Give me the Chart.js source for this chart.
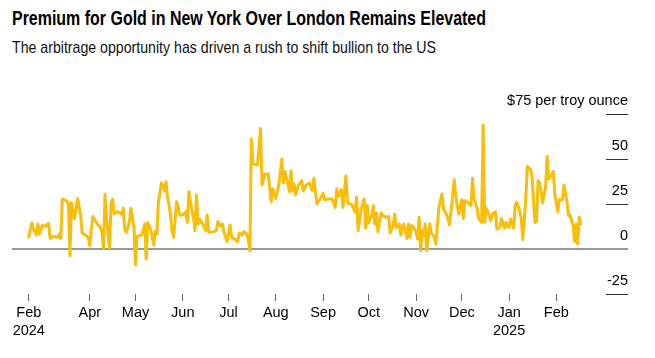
<!DOCTYPE html>
<html>
<head>
<meta charset="utf-8">
<script src="https://cdn.jsdelivr.net/npm/chart.js@4.4.1/dist/chart.umd.min.js"></script>
<style>
  html, body { margin: 0; padding: 0; background: #fff; }
  #wrap { position: relative; width: 655px; height: 358px; overflow: hidden; background: #fff; }
  .txt { position: absolute; left: 12px; white-space: nowrap; color: #000; display: inline-block; transform-origin: 0 50%; }
  #title { top: 8px; font: bold 20px/20px "Liberation Sans Narrow", "Liberation Sans", Arial, sans-serif; }
  #subtitle { top: 38.5px; font: 17px/17px "Liberation Sans Narrow", "Liberation Sans", Arial, sans-serif; color: #111; }
  canvas { position: absolute; left: 0; top: 0; }
</style>
</head>
<body>
<div id="wrap">
  <span id="title" class="txt">Premium for Gold in New York Over London Remains Elevated</span>
  <span id="subtitle" class="txt">The arbitrage opportunity has driven a rush to shift bullion to the US</span>
  <canvas id="c" width="655" height="358"></canvas>
</div>
<script>
// ---- Data ----
const dates = [
"2024-02-21","2024-02-23","2024-02-24","2024-02-26","2024-02-27","2024-02-28","2024-03-01","2024-03-03","2024-03-05","2024-03-06",
"2024-03-08","2024-03-11","2024-03-12","2024-03-13","2024-03-14","2024-03-16","2024-03-18","2024-03-19","2024-03-20","2024-03-22",
"2024-03-24","2024-03-26","2024-03-27","2024-03-29","2024-03-31","2024-04-01","2024-04-03","2024-04-05","2024-04-08","2024-04-09",
"2024-04-10","2024-04-11","2024-04-12","2024-04-14","2024-04-15","2024-04-16","2024-04-17","2024-04-19","2024-04-21","2024-04-22",
"2024-04-23","2024-04-24","2024-04-25","2024-04-27","2024-04-28","2024-04-30","2024-05-01","2024-05-02","2024-05-05","2024-05-06",
"2024-05-07","2024-05-08","2024-05-09","2024-05-11","2024-05-13","2024-05-14","2024-05-15","2024-05-16","2024-05-18","2024-05-20",
"2024-05-21","2024-05-22","2024-05-24","2024-05-25","2024-05-26","2024-05-28","2024-05-29","2024-05-30","2024-06-01","2024-06-03",
"2024-06-04","2024-06-05","2024-06-07","2024-06-08","2024-06-09","2024-06-10","2024-06-11","2024-06-12","2024-06-14","2024-06-16",
"2024-06-17","2024-06-18","2024-06-21","2024-06-23","2024-06-24","2024-06-26","2024-06-27","2024-06-28","2024-06-30","2024-07-02",
"2024-07-03","2024-07-05","2024-07-07","2024-07-08","2024-07-10","2024-07-11","2024-07-13","2024-07-14","2024-07-15","2024-07-16",
"2024-07-17","2024-07-20","2024-07-22","2024-07-23","2024-07-25","2024-07-27","2024-07-29","2024-07-30","2024-08-01","2024-08-03",
"2024-08-05","2024-08-06","2024-08-07","2024-08-09","2024-08-10","2024-08-11","2024-08-12","2024-08-13","2024-08-14","2024-08-16",
"2024-08-18","2024-08-19","2024-08-21","2024-08-23","2024-08-25","2024-08-26","2024-08-28","2024-08-30","2024-09-01","2024-09-02",
"2024-09-05","2024-09-07","2024-09-09","2024-09-10","2024-09-11","2024-09-13","2024-09-14","2024-09-16","2024-09-17","2024-09-19",
"2024-09-20","2024-09-22","2024-09-23","2024-09-24","2024-09-26","2024-09-28","2024-09-29","2024-09-30","2024-10-01","2024-10-03",
"2024-10-04","2024-10-05","2024-10-06","2024-10-07","2024-10-09","2024-10-10","2024-10-12","2024-10-14","2024-10-15","2024-10-17",
"2024-10-18","2024-10-19","2024-10-21","2024-10-22","2024-10-23","2024-10-24","2024-10-26","2024-10-27","2024-10-28","2024-10-29",
"2024-10-30","2024-11-01","2024-11-02","2024-11-03","2024-11-04","2024-11-05","2024-11-06","2024-11-07","2024-11-08","2024-11-10",
"2024-11-11","2024-11-13","2024-11-14","2024-11-16","2024-11-18","2024-11-19","2024-11-21","2024-11-23","2024-11-25","2024-11-26",
"2024-11-27","2024-11-29","2024-12-01","2024-12-02","2024-12-03","2024-12-05","2024-12-07","2024-12-08","2024-12-09","2024-12-11",
"2024-12-12","2024-12-14","2024-12-15","2024-12-16","2024-12-17","2024-12-19","2024-12-20","2024-12-21","2024-12-23","2024-12-24",
"2024-12-26","2024-12-27","2024-12-29","2024-12-30","2025-01-01","2025-01-02","2025-01-04","2025-01-05","2025-01-06","2025-01-08",
"2025-01-09","2025-01-10","2025-01-12","2025-01-13","2025-01-15","2025-01-16","2025-01-18","2025-01-19","2025-01-20","2025-01-21",
"2025-01-22","2025-01-23","2025-01-25","2025-01-26","2025-01-27","2025-01-28","2025-01-30","2025-01-31","2025-02-02","2025-02-03",
"2025-02-05","2025-02-06","2025-02-08","2025-02-09","2025-02-10","2025-02-12","2025-02-13","2025-02-14","2025-02-15","2025-02-16",
"2025-02-17"
];
const premium = [
6.5,14.4,11.1,7.8,13.9,8.3,13.3,12.6,14.3,5.9,
7.0,6.5,8.3,5.9,27.8,27.2,25.4,-3.7,25.6,16.7,
28.1,18.9,8.9,7.8,6.5,1.9,18.1,15.2,11.7,9.6,
0.4,30.4,16.7,0.4,25.6,27.8,19.4,20.7,20.0,19.3,
22.6,10.7,9.3,15.2,22.6,12.0,-8.9,7.0,7.8,10.2,
13.9,-5.6,14.8,10.7,2.2,9.6,8.3,25.9,36.7,32.4,
37.4,29.3,18.9,9.6,6.5,26.3,23.1,18.9,18.9,20.7,
14.8,31.9,21.3,17.6,10.2,30.0,13.9,16.7,13.9,10.2,
18.9,9.3,9.6,10.2,15.2,12.6,13.9,9.6,4.1,13.3,
6.5,5.6,4.1,8.9,7.8,9.6,8.3,4.6,-0.9,61.1,
47.2,46.7,67.0,35.6,41.7,41.7,26.3,33.3,28.1,35.6,
50.0,36.7,43.0,36.1,31.9,43.5,32.4,36.1,30.0,35.6,
38.0,32.4,35.6,36.7,32.4,39.3,25.0,27.4,31.1,27.4,
27.8,27.8,23.1,33.3,29.3,33.0,23.1,40.7,25.6,25.0,
24.4,20.4,28.7,10.2,22.2,27.8,11.5,24.1,14.4,18.9,
24.1,13.9,20.0,9.6,20.0,18.9,17.6,18.1,8.9,13.3,
19.4,12.0,13.9,7.8,11.1,13.9,5.9,13.9,6.5,13.0,
12.6,9.6,5.6,17.6,-0.9,10.2,7.4,13.9,-0.9,13.9,
8.9,6.5,2.8,23.1,30.6,22.2,19.4,13.3,29.6,38.5,
29.6,19.4,27.4,17.0,26.9,25.9,24.1,39.3,28.1,22.6,
17.0,14.8,68.9,14.8,22.6,18.9,15.7,19.4,20.7,11.1,
12.0,17.0,11.5,14.8,12.0,16.7,11.5,24.1,25.9,21.3,
16.7,5.2,28.7,45.9,44.4,41.1,14.8,15.2,38.0,37.0,
31.9,25.6,35.2,51.5,38.9,39.8,43.0,30.0,20.7,27.4,
27.4,35.6,26.3,18.5,18.9,13.0,4.1,13.9,2.8,17.6,
13.9
];
const tickDates = ["2024-02-21","2024-04-01","2024-05-01","2024-06-01","2024-07-01","2024-08-01","2024-09-01","2024-10-01","2024-11-01","2024-12-01","2025-01-01","2025-02-01"];
const tickLabels = [["Feb","2024"],"Apr","May","Jun","Jul","Aug","Sep","Oct","Nov","Dec",["Jan","2025"],"Feb"];
const xRange = ["2024-02-10","2025-03-20"];
const yTicks = [-25, 0, 25, 50, 75];
const yUnitLabel = "$75 per troy ounce";

// ---- helpers ----
function dayNum(s) {
  const [y, m, d] = s.split("-").map(Number);
  return (Date.UTC(y, m - 1, d) - Date.UTC(2024, 0, 1)) / 86400000;
}
function fitWidth(id, target) {
  const el = document.getElementById(id);
  const w = el.getBoundingClientRect().width;
  if (w > 0) el.style.transform = "scaleX(" + (target / w) + ")";
}
fitWidth("title", 474);
fitWidth("subtitle", 424);

const tickValues = tickDates.map(dayNum);
const AXIS_FONT = { family: "'Liberation Sans', Arial, sans-serif", size: 14.5 };

const gridPlugin = {
  id: "valueGrid",
  beforeDatasetsDraw(chart) {
    const { ctx, chartArea, scales } = chart;
    const y = scales.y;
    ctx.save();
    y.ticks.forEach(t => {
      const py = y.getPixelForValue(t.value);
      ctx.beginPath();
      if (t.value === 0) {
        ctx.strokeStyle = "#999999";
        ctx.lineWidth = 2;
        ctx.moveTo(chartArea.left, Math.round(py));
        ctx.lineTo(chartArea.right, Math.round(py));
      } else {
        ctx.strokeStyle = "#333333";
        ctx.lineWidth = 1;
        const yy = Math.round(py) + 0.5;
        ctx.moveTo(chartArea.right - 22, yy);
        ctx.lineTo(chartArea.right, yy);
      }
      ctx.stroke();
    });
    ctx.restore();
  }
};

new Chart(document.getElementById("c"), {
  type: "line",
  data: {
    datasets: [{
      data: dates.map((d, i) => ({ x: dayNum(d), y: premium[i] })),
      borderColor: "#f8be0a",
      borderWidth: 3,
      pointRadius: 0,
      tension: 0,
      fill: false,
      borderJoinStyle: "round",
      borderCapStyle: "round"
    }]
  },
  options: {
    responsive: false,
    devicePixelRatio: 1,
    animation: false,
    layout: { padding: { left: 12, top: 114, right: 0, bottom: 0 } },
    plugins: { legend: { display: false }, tooltip: { enabled: false }, title: { display: false } },
    scales: {
      x: {
        type: "linear",
        min: dayNum(xRange[0]),
        max: dayNum(xRange[1]),
        afterBuildTicks(scale) { scale.ticks = tickValues.map(v => ({ value: v })); },
        afterFit(scale) { scale.height = 64; },
        grid: { display: true, drawOnChartArea: false, drawTicks: true, tickLength: 7, tickColor: "#666666", lineWidth: 1 },
        border: { display: false },
        ticks: {
          autoSkip: false, maxRotation: 0, minRotation: 0, padding: 3,
          color: "#000000",
          font: Object.assign({ lineHeight: 1.25 }, AXIS_FONT),
          callback(value) {
            const i = tickValues.indexOf(value);
            return i >= 0 ? tickLabels[i] : "";
          }
        }
      },
      y: {
        type: "linear",
        position: "right",
        min: yTicks[0],
        max: yTicks[yTicks.length - 1],
        afterBuildTicks(scale) { scale.ticks = yTicks.map(v => ({ value: v })); },
        afterFit(scale) { scale.width = 27; },
        grid: { display: false },
        border: { display: false },
        ticks: {
          mirror: true,
          padding: 0,
          labelOffset: -13,
          color: "#000000",
          font: AXIS_FONT,
          callback(value) { return value === 75 ? yUnitLabel : String(value); }
        }
      }
    }
  },
  plugins: [gridPlugin]
});
</script>
</body>
</html>
